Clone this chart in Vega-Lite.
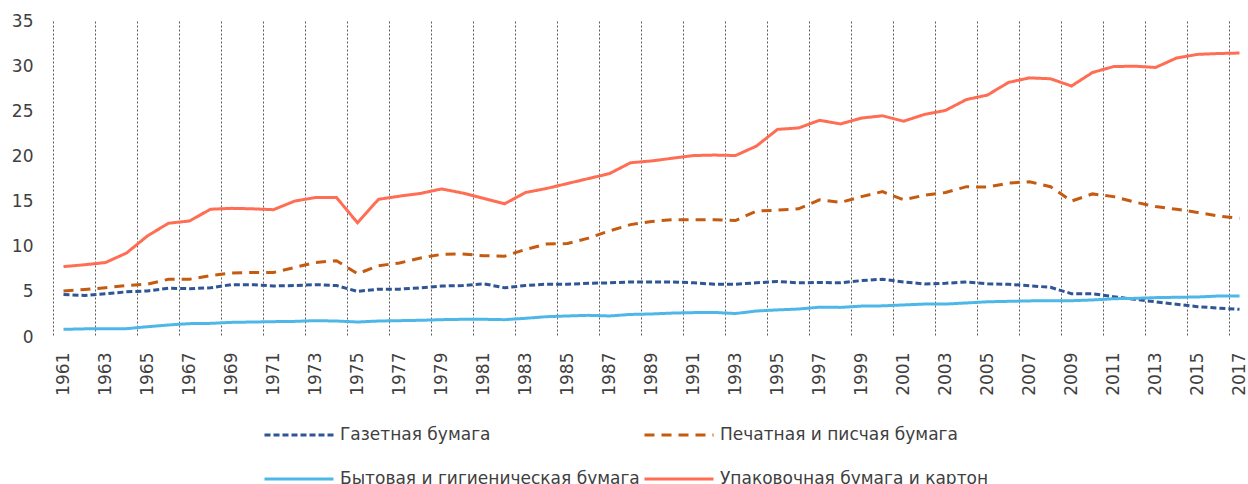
{
"$schema": "https://vega.github.io/schema/vega-lite/v6.json",
"width": 1197, "height": 316,
"autosize": "none",
"padding": {"left": 53, "top": 21, "right": 0, "bottom": 147},
"config": {"view": {"stroke": null}, "font": "DejaVu Sans",
  "legend": {"orient": "none", "legendX": 210, "legendY": 378, "columns": 2, "direction": "horizontal", "symbolType": "stroke", "symbolSize": 4761, "symbolStrokeWidth": 3, "labelFontSize": 17, "labelColor": "#404040", "labelOffset": 5, "columnPadding": -2, "rowPadding": -35, "labelLimit": 400, "padding": 0}},
"data": {"values": [
{"year":1961,"Газетная бумага":4.7,"Печатная и писчая бумага":5.1,"Бытовая и гигиеническая бумага":0.85,"Упаковочная бумага и картон":7.8},
{"year":1962,"Газетная бумага":4.6,"Печатная и писчая бумага":5.25,"Бытовая и гигиеническая бумага":0.9,"Упаковочная бумага и картон":8.0},
{"year":1963,"Газетная бумага":4.8,"Печатная и писчая бумага":5.45,"Бытовая и гигиеническая бумага":0.92,"Упаковочная бумага и картон":8.25},
{"year":1964,"Газетная бумага":5.0,"Печатная и писчая бумага":5.7,"Бытовая и гигиеническая бумага":0.92,"Упаковочная бумага и картон":9.3},
{"year":1965,"Газетная бумага":5.1,"Печатная и писчая бумага":5.85,"Бытовая и гигиеническая бумага":1.14,"Упаковочная бумага и картон":11.2},
{"year":1966,"Газетная бумага":5.4,"Печатная и писчая бумага":6.4,"Бытовая и гигиеническая бумага":1.33,"Упаковочная бумага и картон":12.6},
{"year":1967,"Газетная бумага":5.35,"Печатная и писчая бумага":6.4,"Бытовая и гигиеническая бумага":1.48,"Упаковочная бумага и картон":12.85},
{"year":1968,"Газетная бумага":5.45,"Печатная и писчая бумага":6.8,"Бытовая и гигиеническая бумага":1.51,"Упаковочная бумага и картон":14.15},
{"year":1969,"Газетная бумага":5.8,"Печатная и писчая бумага":7.1,"Бытовая и гигиеническая бумага":1.62,"Упаковочная бумага и картон":14.25},
{"year":1970,"Газетная бумага":5.8,"Печатная и писчая бумага":7.15,"Бытовая и гигиеническая бумага":1.66,"Упаковочная бумага и картон":14.2},
{"year":1971,"Газетная бумага":5.65,"Печатная и писчая бумага":7.15,"Бытовая и гигиеническая бумага":1.7,"Упаковочная бумага и картон":14.1},
{"year":1972,"Газетная бумага":5.7,"Печатная и писчая бумага":7.7,"Бытовая и гигиеническая бумага":1.73,"Упаковочная бумага и картон":15.05},
{"year":1973,"Газетная бумага":5.8,"Печатная и писчая бумага":8.25,"Бытовая и гигиеническая бумага":1.81,"Упаковочная бумага и картон":15.45},
{"year":1974,"Газетная бумага":5.7,"Печатная и писчая бумага":8.45,"Бытовая и гигиеническая бумага":1.77,"Упаковочная бумага и картон":15.45},
{"year":1975,"Газетная бумага":5.05,"Печатная и писчая бумага":7.0,"Бытовая и гигиеническая бумага":1.66,"Упаковочная бумага и картон":12.65},
{"year":1976,"Газетная бумага":5.3,"Печатная и писчая бумага":7.9,"Бытовая и гигиеническая бумага":1.77,"Упаковочная бумага и картон":15.25},
{"year":1977,"Газетная бумага":5.3,"Печатная и писчая бумага":8.2,"Бытовая и гигиеническая бумага":1.81,"Упаковочная бумага и картон":15.6},
{"year":1978,"Газетная бумага":5.45,"Печатная и писчая бумага":8.75,"Бытовая и гигиеническая бумага":1.85,"Упаковочная бумага и картон":15.9},
{"year":1979,"Газетная бумага":5.65,"Печатная и писчая бумага":9.15,"Бытовая и гигиеническая бумага":1.92,"Упаковочная бумага и картон":16.4},
{"year":1980,"Газетная бумага":5.7,"Печатная и писчая бумага":9.2,"Бытовая и гигиеническая бумага":1.96,"Упаковочная бумага и картон":15.95},
{"year":1981,"Газетная бумага":5.9,"Печатная и писчая бумага":9.0,"Бытовая и гигиеническая бумага":1.96,"Упаковочная бумага и картон":15.35},
{"year":1982,"Газетная бумага":5.45,"Печатная и писчая бумага":8.95,"Бытовая и гигиеническая бумага":1.92,"Упаковочная бумага и картон":14.75},
{"year":1983,"Газетная бумага":5.7,"Печатная и писчая бумага":9.7,"Бытовая и гигиеническая бумага":2.07,"Упаковочная бумага и картон":16.0},
{"year":1984,"Газетная бумага":5.85,"Печатная и писчая бумага":10.3,"Бытовая и гигиеническая бумага":2.25,"Упаковочная бумага и картон":16.45},
{"year":1985,"Газетная бумага":5.85,"Печатная и писчая бумага":10.35,"Бытовая и гигиеническая бумага":2.33,"Упаковочная бумага и картон":17.0},
{"year":1986,"Газетная бумага":5.95,"Печатная и писчая бумага":10.95,"Бытовая и гигиеническая бумага":2.4,"Упаковочная бумага и картон":17.55},
{"year":1987,"Газетная бумага":6.0,"Печатная и писчая бумага":11.75,"Бытовая и гигиеническая бумага":2.33,"Упаковочная бумага и картон":18.1},
{"year":1988,"Газетная бумага":6.1,"Печатная и писчая бумага":12.45,"Бытовая и гигиеническая бумага":2.5,"Упаковочная бумага и картон":19.3},
{"year":1989,"Газетная бумага":6.1,"Печатная и писчая бумага":12.8,"Бытовая и гигиеническая бумага":2.55,"Упаковочная бумага и картон":19.5},
{"year":1990,"Газетная бумага":6.1,"Печатная и писчая бумага":13.0,"Бытовая и гигиеническая бумага":2.65,"Упаковочная бумага и картон":19.8},
{"year":1991,"Газетная бумага":6.0,"Печатная и писчая бумага":13.0,"Бытовая и гигиеническая бумага":2.7,"Упаковочная бумага и картон":20.1},
{"year":1992,"Газетная бумага":5.85,"Печатная и писчая бумага":13.0,"Бытовая и гигиеническая бумага":2.72,"Упаковочная бумага и картон":20.15},
{"year":1993,"Газетная бумага":5.85,"Печатная и писчая бумага":12.9,"Бытовая и гигиеническая бумага":2.6,"Упаковочная бумага и картон":20.1},
{"year":1994,"Газетная бумага":6.0,"Печатная и писчая бумага":13.95,"Бытовая и гигиеническая бумага":2.88,"Упаковочная бумага и картон":21.15},
{"year":1995,"Газетная бумага":6.15,"Печатная и писчая бумага":14.05,"Бытовая и гигиеническая бумага":3.0,"Упаковочная бумага и картон":23.0},
{"year":1996,"Газетная бумага":6.0,"Печатная и писчая бумага":14.2,"Бытовая и гигиеническая бумага":3.1,"Упаковочная бумага и картон":23.15},
{"year":1997,"Газетная бумага":6.05,"Печатная и писчая бумага":15.2,"Бытовая и гигиеническая бумага":3.3,"Упаковочная бумага и картон":24.0},
{"year":1998,"Газетная бумага":6.0,"Печатная и писчая бумага":14.9,"Бытовая и гигиеническая бумага":3.28,"Упаковочная бумага и картон":23.6},
{"year":1999,"Газетная бумага":6.25,"Печатная и писчая бумага":15.55,"Бытовая и гигиеническая бумага":3.42,"Упаковочная бумага и картон":24.25},
{"year":2000,"Газетная бумага":6.4,"Печатная и писчая бумага":16.1,"Бытовая и гигиеническая бумага":3.45,"Упаковочная бумага и картон":24.5},
{"year":2001,"Газетная бумага":6.1,"Печатная и писчая бумага":15.2,"Бытовая и гигиеническая бумага":3.55,"Упаковочная бумага и картон":23.9},
{"year":2002,"Газетная бумага":5.87,"Печатная и писчая бумага":15.7,"Бытовая и гигиеническая бумага":3.65,"Упаковочная бумага и картон":24.65},
{"year":2003,"Газетная бумага":5.95,"Печатная и писчая бумага":16.0,"Бытовая и гигиеническая бумага":3.65,"Упаковочная бумага и картон":25.1},
{"year":2004,"Газетная бумага":6.1,"Печатная и писчая бумага":16.65,"Бытовая и гигиеническая бумага":3.77,"Упаковочная бумага и картон":26.3},
{"year":2005,"Газетная бумага":5.9,"Печатная и писчая бумага":16.6,"Бытовая и гигиеническая бумага":3.9,"Упаковочная бумага и картон":26.8},
{"year":2006,"Газетная бумага":5.83,"Печатная и писчая бумага":17.05,"Бытовая и гигиеническая бумага":3.95,"Упаковочная бумага и картон":28.2},
{"year":2007,"Газетная бумага":5.68,"Печатная и писчая бумага":17.2,"Бытовая и гигиеническая бумага":4.0,"Упаковочная бумага и картон":28.7},
{"year":2008,"Газетная бумага":5.5,"Печатная и писчая бумага":16.65,"Бытовая и гигиеническая бумага":4.02,"Упаковочная бумага и картон":28.6},
{"year":2009,"Газетная бумага":4.8,"Печатная и писчая бумага":15.05,"Бытовая и гигиеническая бумага":4.02,"Упаковочная бумага и картон":27.8},
{"year":2010,"Газетная бумага":4.8,"Печатная и писчая бумага":15.85,"Бытовая и гигиеническая бумага":4.1,"Упаковочная бумага и картон":29.3},
{"year":2011,"Газетная бумага":4.47,"Печатная и писчая бумага":15.55,"Бытовая и гигиеническая бумага":4.24,"Упаковочная бумага и картон":29.95},
{"year":2012,"Газетная бумага":4.17,"Печатная и писчая бумага":14.95,"Бытовая и гигиеническая бумага":4.28,"Упаковочная бумага и картон":30.0},
{"year":2013,"Газетная бумага":3.9,"Печатная и писчая бумага":14.45,"Бытовая и гигиеническая бумага":4.36,"Упаковочная бумага и картон":29.85},
{"year":2014,"Газетная бумага":3.62,"Печатная и писчая бумага":14.15,"Бытовая и гигиеническая бумага":4.4,"Упаковочная бумага и картон":30.9},
{"year":2015,"Газетная бумага":3.36,"Печатная и писчая бумага":13.8,"Бытовая и гигиеническая бумага":4.43,"Упаковочная бумага и картон":31.3},
{"year":2016,"Газетная бумага":3.2,"Печатная и писчая бумага":13.4,"Бытовая и гигиеническая бумага":4.54,"Упаковочная бумага и картон":31.4},
{"year":2017,"Газетная бумага":3.07,"Печатная и писчая бумага":13.15,"Бытовая и гигиеническая бумага":4.54,"Упаковочная бумага и картон":31.45}
]},
"transform": [{"fold": ["Газетная бумага", "Печатная и писчая бумага", "Бытовая и гигиеническая бумага", "Упаковочная бумага и картон"], "as": ["series", "value"]}],
"resolve": {"axis": {"x": "independent"}},
"layer": [
{
"mark": {"type": "line", "strokeWidth": 3, "strokeOpacity": 0},
"encoding": {
  "x": {"field": "year", "type": "quantitative", "scale": {"domain": [1960.5, 2017.5], "nice": false, "zero": false},
    "axis": {"title": null, "orient": "bottom", "values": [1960.5,1962.5,1964.5,1966.5,1968.5,1970.5,1972.5,1974.5,1976.5,1978.5,1980.5,1982.5,1984.5,1986.5,1988.5,1990.5,1992.5,1994.5,1996.5,1998.5,2000.5,2002.5,2004.5,2006.5,2008.5,2010.5,2012.5,2014.5,2016.5],
      "labels": false, "ticks": false, "domain": false, "grid": true, "gridDash": [2, 2], "gridColor": "#595959", "gridWidth": 1}},
  "y": {"field": "value", "type": "quantitative", "scale": {"domain": [0, 35]}},
  "detail": {"field": "series"}
}
},
{
"mark": {"type": "line", "strokeWidth": 3},
"encoding": {
  "x": {"field": "year", "type": "quantitative", "scale": {"domain": [1960.5, 2017.5], "nice": false, "zero": false},
    "axis": {"title": null, "orient": "bottom", "format": "d", "values": [1961,1963,1965,1967,1969,1971,1973,1975,1977,1979,1981,1983,1985,1987,1989,1991,1993,1995,1997,1999,2001,2003,2005,2007,2009,2011,2013,2015,2017],
      "labelAngle": -90, "labelFontSize": 17, "labelColor": "#404040", "labelPadding": 15, "labelOverlap": false, "labelFlush": false, "ticks": false, "domain": false, "grid": false}},
  "y": {"field": "value", "type": "quantitative", "scale": {"domain": [0, 35]},
    "axis": {"title": null, "values": [0,5,10,15,20,25,30,35], "grid": false, "domain": false, "ticks": false, "labelFontSize": 17, "labelColor": "#404040", "labelPadding": 20}},
  "color": {"field": "series", "type": "nominal", "title": null,
    "scale": {"domain": ["Газетная бумага", "Печатная и писчая бумага", "Бытовая и гигиеническая бумага", "Упаковочная бумага и картон"], "range": ["#2F5597", "#C55A11", "#4DB8E8", "#FF6E54"]}},
  "strokeDash": {"field": "series", "type": "nominal", "title": null,
    "scale": {"domain": ["Газетная бумага", "Печатная и писчая бумага", "Бытовая и гигиеническая бумага", "Упаковочная бумага и картон"], "range": [[6, 3], [10, 7], [1, 0], [1, 0]]}}
}
}
]
}
